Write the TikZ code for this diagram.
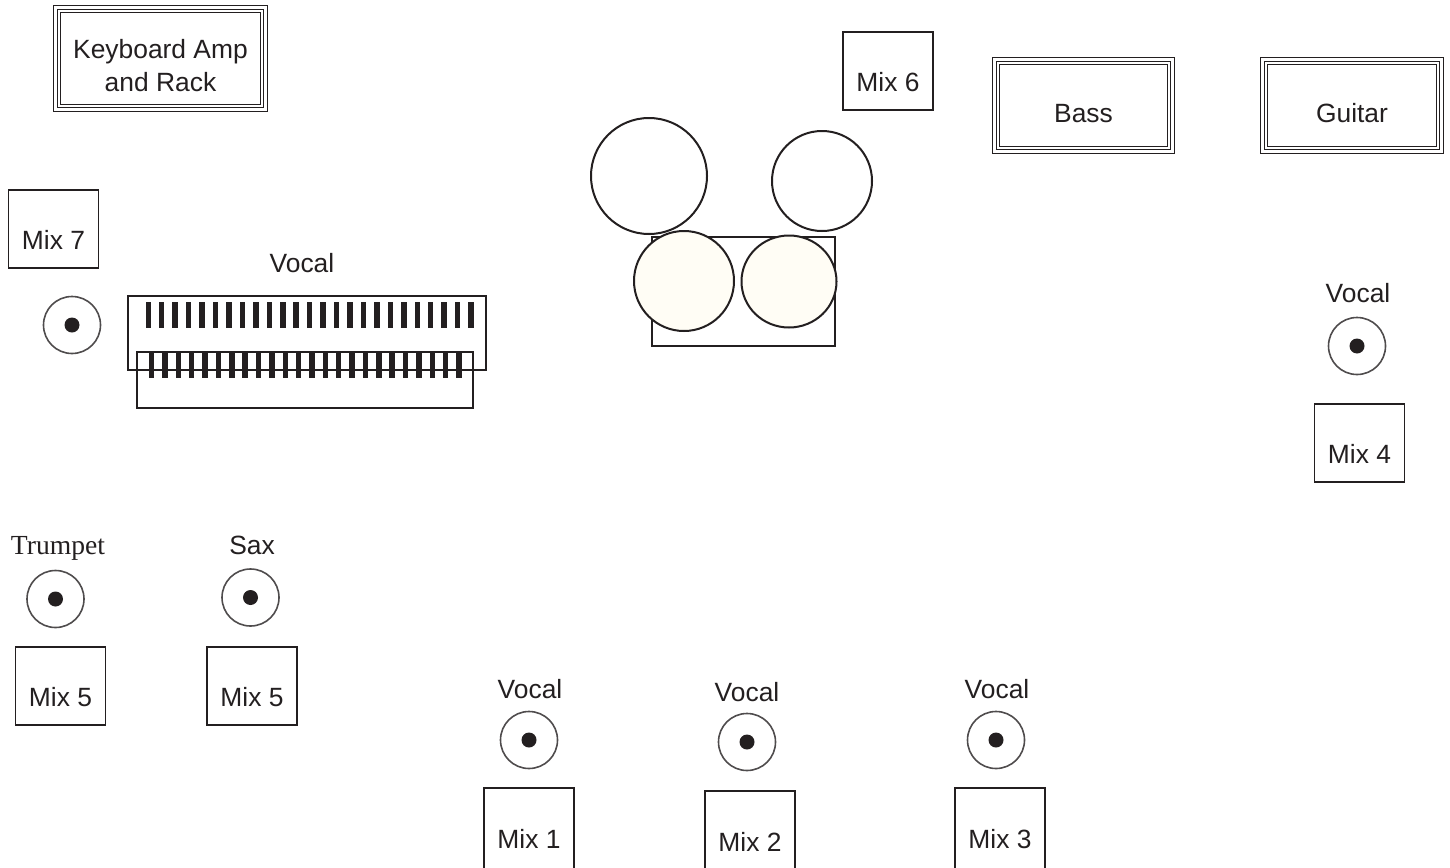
\documentclass[tikz,border=0pt]{standalone}
\usepackage{fontspec}
\setmainfont{Liberation Sans}
\newfontfamily\timesfont{Liberation Serif}
\definecolor{ink}{HTML}{231F20}
\definecolor{drumhead}{HTML}{FFFDF5}
\tikzset{
  mixbox/.style={draw=ink, line width=0.75pt, minimum width=45pt, minimum height=39pt,
    inner sep=0pt, text=ink, text height=20pt, text depth=0pt},
  ampbox/.style={draw=ink, line width=0.5pt, inner sep=0pt, text=ink,
    text height=16.8pt, text depth=0pt},
  ampline/.style={draw=ink, line width=0.5pt},
  mic/.style={circle, draw=ink!80, line width=0.8pt, minimum size=28.5pt, inner sep=0pt,
    path picture={\fill[ink] (path picture bounding box.center) circle (3.75pt);}},
  lbl/.style={text=ink},
  drum/.style={draw=ink, line width=1pt},
  keys/.style={draw=ink, line width=0.75pt}
}

\begin{document}
\begin{tikzpicture}[x=0.5pt, y=-0.5pt, font=\fontsize{13.2}{16.5}\selectfont]
  \useasboundingbox (0,0) rectangle (1450,867);

  \node[ampbox, minimum width=103pt, minimum height=49pt, align=center, text height=32.8pt]
    (kbamp) at (160.5,58.5) {Keyboard Amp\\and Rack};
  \node[ampbox, minimum width=87pt, minimum height=44pt] (bass) at (1083.5,105.5) {Bass};
  \node[ampbox, minimum width=87.5pt, minimum height=44pt] (guitar) at (1352,105.5) {Guitar};
  \foreach \a in {kbamp,bass,guitar} {
    \draw[ampline] ([shift={(-1.75pt,1.75pt)}]\a.north west) rectangle ([shift={(1.75pt,-1.75pt)}]\a.south east);
    \draw[ampline] ([shift={(1.75pt,-1.75pt)}]\a.north west) rectangle ([shift={(-1.75pt,1.75pt)}]\a.south east);
  }

  \node[mixbox] (mix7) at (53.5,229) {Mix 7};
  \node[mixbox] (mix6) at (888,71) {Mix 6};
  \node[mixbox] (mix4) at (1359.5,443) {Mix 4};
  \node[mixbox] (mix5t) at (60.5,686) {Mix 5};
  \node[mixbox] (mix5s) at (252,686) {Mix 5};
  \node[mixbox, minimum height=42pt, text height=18pt] (mix1) at (529,830) {Mix 1};
  \node[mixbox, minimum height=42pt, text height=18pt] (mix2) at (750,833) {Mix 2};
  \node[mixbox, minimum height=42pt, text height=18pt] (mix3) at (1000,830) {Mix 3};

  \node[mic] (mickeys) at (72,325) {};
  \node[mic] (micright) at (1357,346) {};
  \node[mic] (mictrumpet) at (55.5,599) {};
  \node[mic] (micsax) at (250.5,597.5) {};
  \node[mic] (micone) at (529,740) {};
  \node[mic] (mictwo) at (747,742) {};
  \node[mic] (micthree) at (996,740) {};

  \node[lbl] (vockeys) at (302,263) {Vocal};
  \node[lbl] (vocright) at (1358,293) {Vocal};
  \node[lbl, text depth=0pt, font=\timesfont\fontsize{13.8}{16}\selectfont] (trumpet) at (58,545) {Trumpet};
  \node[lbl] (sax) at (252,545) {Sax};
  \node[lbl] (vocone) at (530,689) {Vocal};
  \node[lbl] (voctwo) at (747,692) {Vocal};
  \node[lbl] (vocthree) at (997,689) {Vocal};

  \draw[keys] (128,296) rectangle (486,370);
  \draw[keys] (137,352) rectangle (473,408);
  \foreach \k in {0,...,24}
    \fill[ink] ({145.5+13.45*\k},302) rectangle ++(5.5,25.5);
  \foreach \k in {0,...,23}
    \fill[ink] ({148.8+13.37*\k},352) rectangle ++(5.5,26);

  \draw[drum] (652,237) rectangle (835,346);
  \draw[drum] (649,176) circle (29pt);
  \draw[drum] (822,181) circle (25pt);
  \filldraw[drum, fill=drumhead] (684,281) circle (25pt);
  \filldraw[drum, fill=drumhead] (789,281.5) ellipse (23.75pt and 23pt);
\end{tikzpicture}
\end{document}
